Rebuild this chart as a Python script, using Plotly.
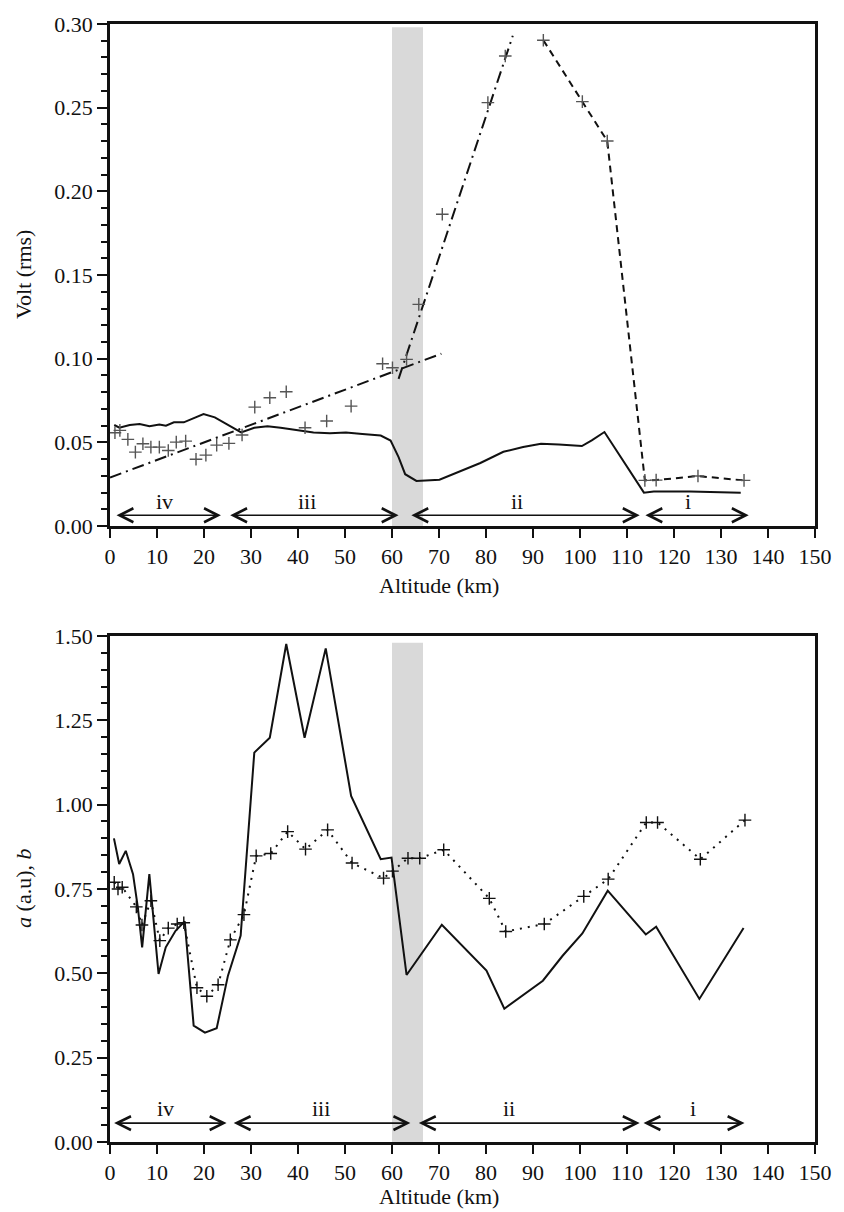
import plotly.graph_objects as go

# ---------------- data: top panel (Volt rms) ----------------
alt_solid_top = [0.9, 2.0, 4.2, 6.3, 8.4, 10.5, 11.9, 13.6, 15.7, 17.4, 19.9, 22.3, 25.1, 27.9,
                 30.7, 33.5, 36.3, 39.8, 43.3, 46.8, 50.2, 53.7, 57.6, 59.7, 61.4, 62.8, 65.2,
                 70.1, 74.6, 78.8, 83.7, 87.9, 91.7, 95.5, 100.4, 102.5, 105.2, 113.6, 115.7,
                 123.4, 134.2]
volt_solid_top = [0.0604, 0.0588, 0.0604, 0.0610, 0.0597, 0.0607, 0.0600, 0.0620, 0.0620, 0.0640,
                  0.0670, 0.0650, 0.0604, 0.0560, 0.0588, 0.0597, 0.0588, 0.0573, 0.0560, 0.0555,
                  0.0560, 0.0551, 0.0541, 0.0511, 0.0412, 0.0310, 0.0270, 0.0277, 0.0327, 0.0377,
                  0.0444, 0.0472, 0.0492, 0.0488, 0.0478, 0.0512, 0.0562, 0.0200, 0.0206, 0.0206,
                  0.0200]

alt_points_top = [1.05, 2.1, 3.8, 5.4, 7.0, 8.7, 10.5, 12.4, 14.1, 16.1, 18.3, 20.4, 22.7, 25.3,
                  28.1, 30.8, 34.0, 37.5, 41.5, 46.1, 51.3, 58.0, 60.1, 63.1, 65.7, 70.7, 80.4, 84.1]
volt_points_top = [0.0558, 0.0572, 0.0518, 0.0442, 0.0492, 0.0472, 0.0472, 0.0452, 0.0502, 0.0508,
                   0.0399, 0.0424, 0.0484, 0.0494, 0.0544, 0.0711, 0.0767, 0.0803, 0.0588, 0.0628,
                   0.0717, 0.0970, 0.0946, 0.0996, 0.1325, 0.1863, 0.2530, 0.2809]

alt_dashed_top = [92.2, 100.5, 105.8, 113.8, 116.2, 125.1, 134.9]
volt_dashed_top = [0.2903, 0.2536, 0.2301, 0.0273, 0.0275, 0.0299, 0.0273]

fit_low_alt = [0.0, 70.5]
fit_low_volt = [0.029, 0.103]
fit_high_alt = [61.4, 85.7]
fit_high_volt = [0.088, 0.293]

# ---------------- data: bottom panel (a, b) ----------------
alt_a = [0.84, 1.95, 3.35, 4.9, 5.93, 6.84, 8.37, 10.33, 11.86, 13.95, 15.9, 17.8, 20.2, 22.7,
         25.1, 27.8, 30.7, 34.0, 37.5, 41.4, 45.9, 51.3, 57.6, 59.9, 63.1, 70.6, 80.1, 83.9,
         92.1, 96.3, 100.5, 105.9, 114.0, 116.2, 125.4, 134.8]
a_vals = [0.900, 0.824, 0.863, 0.794, 0.695, 0.577, 0.794, 0.498, 0.577, 0.626, 0.654, 0.345,
          0.324, 0.337, 0.493, 0.612, 1.154, 1.198, 1.476, 1.198, 1.463, 1.026, 0.838, 0.843,
          0.495, 0.644, 0.508, 0.395, 0.478, 0.552, 0.618, 0.745, 0.615, 0.638, 0.424, 0.634]

alt_b = [0.9, 1.7, 2.6, 5.6, 6.8, 8.7, 10.6, 12.4, 14.3, 15.7, 18.5, 20.6, 23.0, 25.6, 28.5,
         31.1, 34.2, 37.8, 41.6, 46.3, 51.5, 58.2, 60.1, 63.4, 65.9, 71.0, 80.7, 84.2, 92.4,
         100.8, 106.0, 114.1, 116.5, 125.6, 135.1]
b_vals = [0.77, 0.75, 0.755, 0.697, 0.643, 0.715, 0.597, 0.634, 0.646, 0.650, 0.457, 0.432,
          0.466, 0.599, 0.674, 0.848, 0.855, 0.920, 0.868, 0.925, 0.827, 0.782, 0.803, 0.841,
          0.841, 0.866, 0.722, 0.624, 0.646, 0.728, 0.779, 0.947, 0.947, 0.838, 0.954]

# ---------------- regions ----------------
region_names = ["iv", "iii", "ii", "i"]
regions_top = [(1.07, 23.6), (25.25, 61.4), (63.8, 112.7), (113.6, 135.9)]
label_x_top = [11.65, 42.0, 86.5, 123.0]
regions_bot = [(0.56, 24.8), (26.0, 63.9), (65.4, 112.7), (113.2, 135.0)]
label_x_bot = [11.9, 44.8, 84.9, 124.0]
band_alt = (60.0, 66.6)

FONT = "Liberation Serif, Times New Roman, serif"
BLACK = "#111111"
MK = 9
MKW = 1.4
ARW = 1.6
ARS = 1.7

fig = go.Figure()

# top panel traces
fig.add_trace(go.Scatter(x=alt_solid_top, y=volt_solid_top, mode="lines",
                         line=dict(color=BLACK, width=2), xaxis="x", yaxis="y", showlegend=False))
fig.add_trace(go.Scatter(x=fit_low_alt, y=fit_low_volt, mode="lines",
                         line=dict(color=BLACK, width=2, dash="12px,5px,2px,5px"),
                         xaxis="x", yaxis="y", showlegend=False))
fig.add_trace(go.Scatter(x=fit_high_alt, y=fit_high_volt, mode="lines",
                         line=dict(color=BLACK, width=2, dash="12px,5px,2px,5px"),
                         xaxis="x", yaxis="y", showlegend=False))
fig.add_trace(go.Scatter(x=alt_dashed_top, y=volt_dashed_top, mode="lines+markers",
                         line=dict(color=BLACK, width=2, dash="7px,5px"),
                         marker=dict(symbol="cross-thin", size=MK, line=dict(color="#555555", width=MKW)),
                         xaxis="x", yaxis="y", showlegend=False))
fig.add_trace(go.Scatter(x=alt_points_top, y=volt_points_top, mode="markers",
                         marker=dict(symbol="cross-thin", size=MK, line=dict(color="#555555", width=MKW)),
                         xaxis="x", yaxis="y", showlegend=False))

# bottom panel traces
fig.add_trace(go.Scatter(x=alt_a, y=a_vals, mode="lines",
                         line=dict(color=BLACK, width=2), xaxis="x2", yaxis="y2", showlegend=False))
fig.add_trace(go.Scatter(x=alt_b, y=b_vals, mode="lines+markers",
                         line=dict(color=BLACK, width=2, dash="2px,6px"),
                         marker=dict(symbol="cross-thin", size=MK, line=dict(color=BLACK, width=MKW)),
                         xaxis="x2", yaxis="y2", showlegend=False))

# gray bands
fig.add_shape(type="rect", xref="x", yref="y", x0=band_alt[0], x1=band_alt[1], y0=0, y1=0.298,
              fillcolor="#d9d9d9", line=dict(width=0), layer="below")
fig.add_shape(type="rect", xref="x2", yref="y2", x0=band_alt[0], x1=band_alt[1], y0=0, y1=1.48,
              fillcolor="#d9d9d9", line=dict(width=0), layer="below")

annotations = []
for (s, e), name, lx in zip(regions_top, region_names, label_x_top):
    annotations.append(dict(x=e, y=0.0065, ax=s, ay=0.0065, xref="x", yref="y", axref="x", ayref="y",
                            text="", showarrow=True, arrowhead=5, startarrowhead=5,
                            arrowside="end+start", arrowsize=ARS, startarrowsize=ARS,
                            arrowwidth=ARW, arrowcolor=BLACK))
    annotations.append(dict(x=lx, y=0.0149, xref="x", yref="y", text=name, showarrow=False,
                            font=dict(family=FONT, size=22, color=BLACK), yanchor="middle"))
for (s, e), name, lx in zip(regions_bot, region_names, label_x_bot):
    annotations.append(dict(x=e, y=0.056, ax=s, ay=0.056, xref="x2", yref="y2", axref="x2", ayref="y2",
                            text="", showarrow=True, arrowhead=5, startarrowhead=5,
                            arrowside="end+start", arrowsize=ARS, startarrowsize=ARS,
                            arrowwidth=ARW, arrowcolor=BLACK))
    annotations.append(dict(x=lx, y=0.099, xref="x2", yref="y2", text=name, showarrow=False,
                            font=dict(family=FONT, size=22, color=BLACK), yanchor="middle"))

# axis titles
annotations.append(dict(x=70, y=(1142 - 585) / 1120, xref="x", yref="paper", text="Altitude (km)",
                        showarrow=False, font=dict(family=FONT, size=22, color=BLACK), yanchor="middle"))
annotations.append(dict(x=70, y=(1142 - 1197) / 1120, xref="x2", yref="paper", text="Altitude (km)",
                        showarrow=False, font=dict(family=FONT, size=22, color=BLACK), yanchor="middle"))
annotations.append(dict(x=(22 - 110) / 717, y=(1142 - 273) / 1120, xref="paper", yref="paper",
                        text="Volt (rms)", textangle=-90, showarrow=False,
                        font=dict(family=FONT, size=22, color=BLACK), xanchor="center", yanchor="middle"))
annotations.append(dict(x=(22 - 110) / 717, y=(1142 - 888) / 1120, xref="paper", yref="paper",
                        text="<i>a</i> (a.u), <i>b</i>", textangle=-90, showarrow=False,
                        font=dict(family=FONT, size=22, color=BLACK), xanchor="center", yanchor="middle"))

xaxis_common = dict(range=[0, 150], dtick=10, tick0=0, ticks="outside", ticklen=9, tickwidth=2,
                    tickcolor=BLACK, showline=True, linewidth=2.5, linecolor=BLACK, mirror=True,
                    showgrid=False, zeroline=False,
                    tickfont=dict(family=FONT, size=22, color=BLACK))

fig.update_layout(
    width=844, height=1212,
    margin=dict(l=110, r=17, t=22, b=70),
    paper_bgcolor="white", plot_bgcolor="white",
    font=dict(family=FONT, color=BLACK),
    xaxis=dict(domain=[0, 1], anchor="y", **xaxis_common),
    xaxis2=dict(domain=[0, 1], anchor="y2", **xaxis_common),
    yaxis=dict(domain=[(1142 - 525) / 1120, 1.0], anchor="x", range=[0, 0.30], dtick=0.05,
               tickformat=".2f", ticks="outside", ticklen=10, tickwidth=2, tickcolor=BLACK,
               minor=dict(ticks="outside", dtick=0.01, ticklen=6, tickwidth=1.5, tickcolor=BLACK),
               showline=True, linewidth=2.5, linecolor=BLACK, mirror=True, showgrid=False,
               zeroline=False, tickfont=dict(family=FONT, size=22, color=BLACK)),
    yaxis2=dict(domain=[0, (1142 - 635) / 1120], anchor="x2", range=[0, 1.5], dtick=0.25,
                tickformat=".2f", ticks="outside", ticklen=10, tickwidth=2, tickcolor=BLACK,
                minor=dict(ticks="outside", dtick=0.05, ticklen=6, tickwidth=1.5, tickcolor=BLACK),
                showline=True, linewidth=2.5, linecolor=BLACK, mirror=True, showgrid=False,
                zeroline=False, tickfont=dict(family=FONT, size=22, color=BLACK)),
    annotations=annotations,
)

fig.write_html("out.html")
